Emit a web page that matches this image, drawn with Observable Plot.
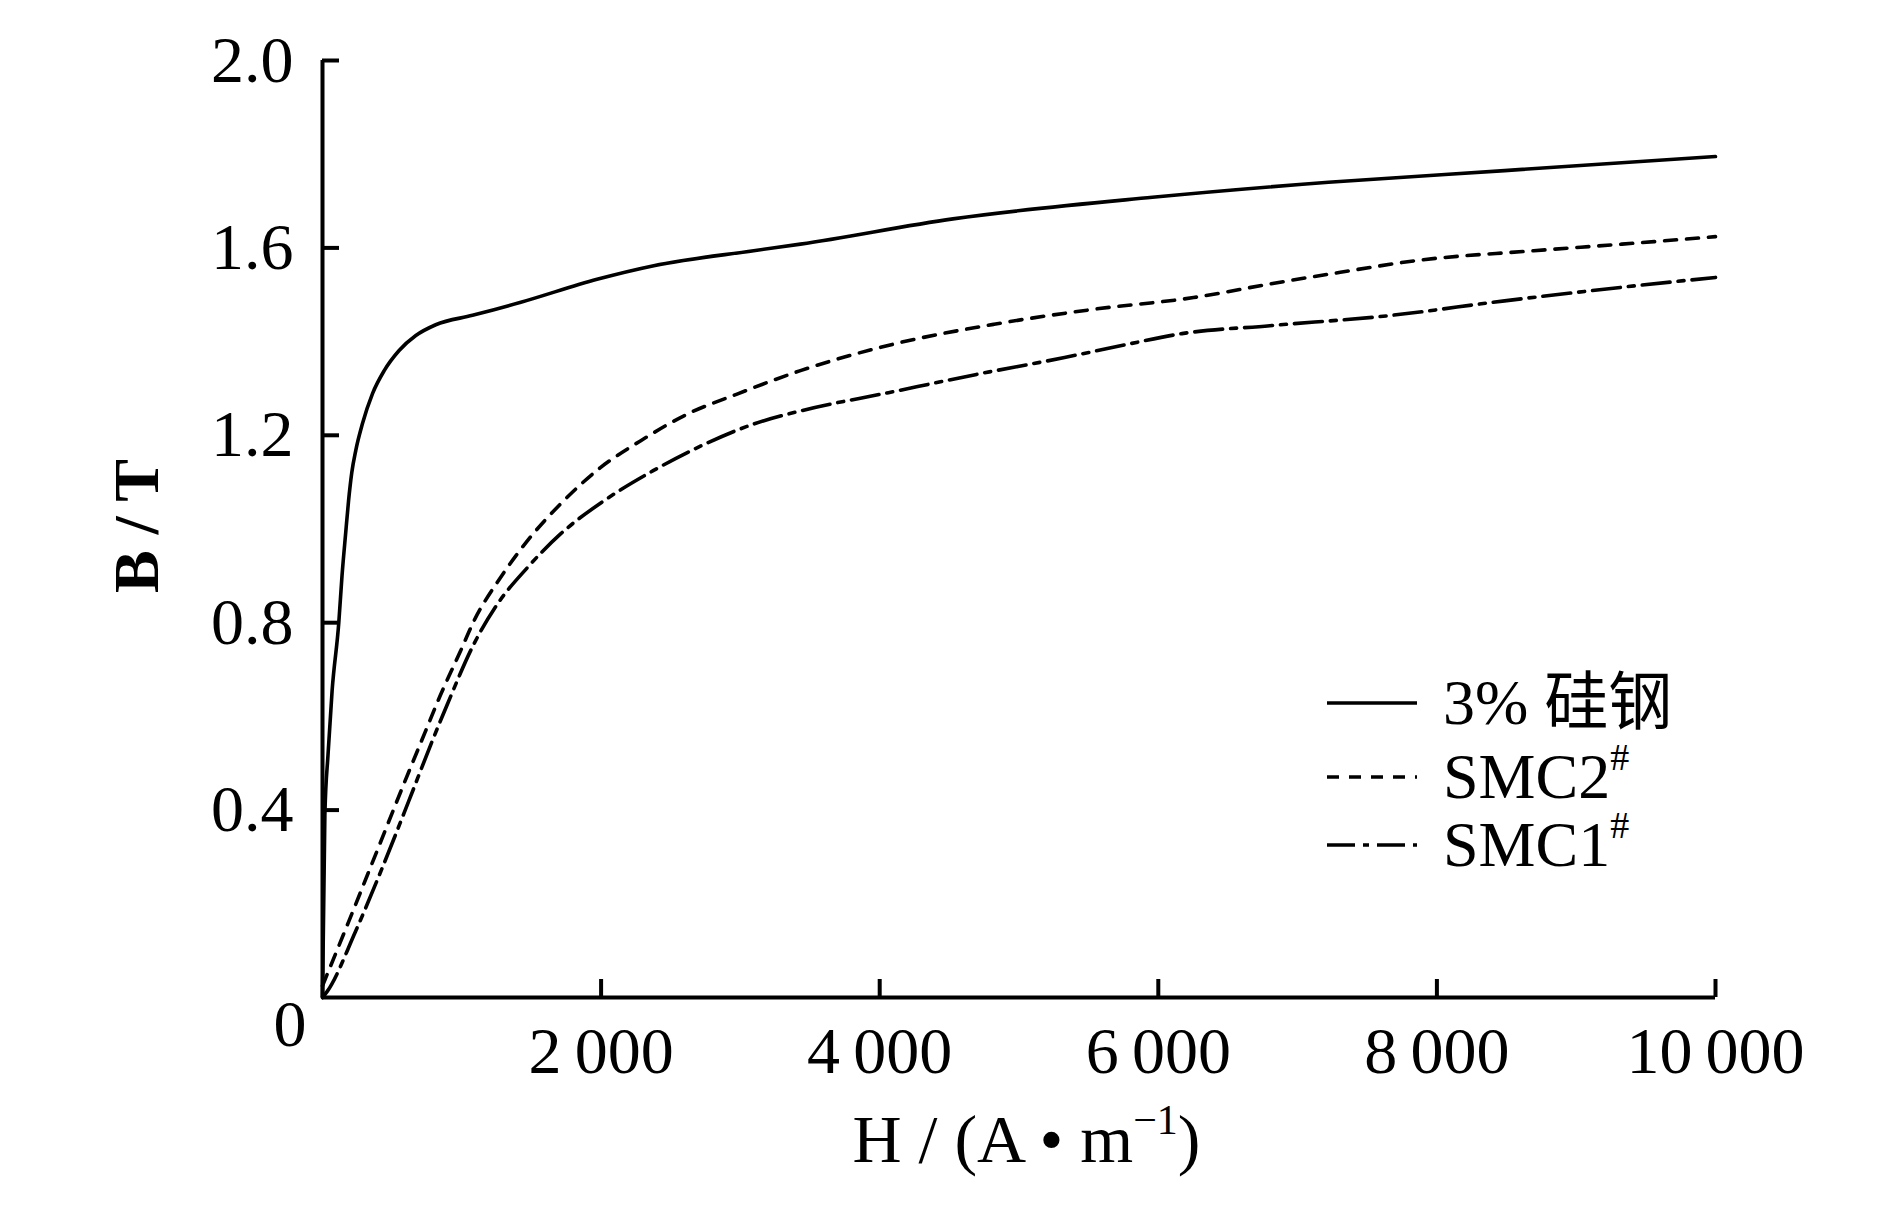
<!DOCTYPE html>
<html>
<head>
<meta charset="utf-8">
<script src="https://cdn.jsdelivr.net/npm/d3@7"></script>
<script src="https://cdn.jsdelivr.net/npm/@observablehq/plot@0.6"></script>
<style>
  html, body { margin: 0; padding: 0; background: #fff; }
  #chart { width: 1890px; height: 1205px; }
</style>
</head>
<body>
<div id="chart"></div>
<script>
// ---- axes / labels ----
const xTicks = [2000, 4000, 6000, 8000, 10000];
const xTickLabels = ["2\u2009000", "4\u2009000", "6\u2009000", "8\u2009000", "10\u2009000"];
const yTicks = [0.4, 0.8, 1.2, 1.6, 2.0];
const yTickLabels = ["0.4", "0.8", "1.2", "1.6", "2.0"];
const originLabel = "0";
const yLabel = "B / T";
const xLabelMain = "H / (A \u2022 m";
const xLabelSup = "\u22121";
const xLabelEnd = ")";

// ---- series ----
const seriesNames = ["3% 硅钢", "SMC2", "SMC1"];
const seriesSup = ["", "#", "#"];

const steelH = [0, 17, 40, 69, 117, 140, 166, 187, 210, 239, 287, 359, 443, 550, 670, 813, 1077, 1424, 1971, 2378, 3095, 3431, 4526, 5958, 7222, 8486, 10000];
const steelB = [0, 0.39, 0.52, 0.655, 0.80, 0.90, 0.99, 1.06, 1.12, 1.168, 1.225, 1.289, 1.338, 1.381, 1.413, 1.436, 1.456, 1.484, 1.533, 1.562, 1.594, 1.608, 1.662, 1.708, 1.740, 1.765, 1.795];

const smc2H = [0, 22, 188, 381, 572, 739, 846, 990, 1086, 1277, 1469, 1707, 1995, 2282, 2617, 2976, 3431, 4105, 4821, 5537, 6253, 6801, 7307, 7854, 8695, 9328, 10000];
const smc2B = [0.025, 0.041, 0.162, 0.305, 0.447, 0.568, 0.645, 0.739, 0.803, 0.896, 0.974, 1.053, 1.131, 1.188, 1.245, 1.288, 1.338, 1.395, 1.437, 1.469, 1.494, 1.523, 1.548, 1.573, 1.594, 1.608, 1.624];

const smc1H = [0, 34, 237, 428, 619, 787, 895, 1086, 1254, 1469, 1707, 2019, 2377, 2736, 3095, 3431, 4063, 4695, 5327, 5790, 6169, 6801, 7643, 8486, 9328, 10000];
const smc1B = [0, 0.013, 0.141, 0.276, 0.419, 0.547, 0.625, 0.754, 0.839, 0.917, 0.989, 1.06, 1.125, 1.180, 1.224, 1.252, 1.291, 1.330, 1.366, 1.395, 1.417, 1.434, 1.455, 1.487, 1.516, 1.537];

const dashes = [null, "12,10", "28,8,6,8"];

const toRows = (H, B) => H.map((h, i) => ({H: h, B: B[i]}));
const seriesRows = [toRows(steelH, steelB), toRows(smc2H, smc2B), toRows(smc1H, smc1B)];

const serif = "'Liberation Serif', 'Times New Roman', Times, serif";
const serifCJK = "'Liberation Serif', 'Times New Roman', 'Noto Sans CJK SC', serif";

const chart = Plot.plot({
  width: 1890,
  height: 1205,
  marginLeft: 322,
  marginRight: 175,
  marginTop: 60,
  marginBottom: 208,
  x: {domain: [0, 10000], axis: null},
  y: {domain: [0, 2], axis: null},
  style: {fontFamily: serif, fontSize: "66px", color: "#000", background: "#fff", overflow: "visible"},
  marks: [
    Plot.ruleX([0], {stroke: "#000", strokeWidth: 4}),
    Plot.ruleY([0], {stroke: "#000", strokeWidth: 4}),
    Plot.ruleY(yTicks, {x1: 0, x2: 0, insetRight: -17, stroke: "#000", strokeWidth: 4}),
    Plot.ruleX(xTicks, {y1: 0, y2: 0, insetTop: -18, stroke: "#000", strokeWidth: 4}),
    Plot.text(yTicks, {x: 0, y: d => d, text: (d, i) => yTickLabels[i], textAnchor: "end", lineAnchor: "middle", dx: -29}),
    Plot.text(xTicks, {x: d => d, y: 0, text: (d, i) => xTickLabels[i], lineAnchor: "top", dy: 29}),
    Plot.text([originLabel], {x: 0, y: 0, text: d => d, textAnchor: "end", lineAnchor: "top", dx: -16, dy: 2}),
    ...seriesRows.map((rows, k) => Plot.line(rows, {
      x: "H", y: "B", curve: "monotone-x", stroke: "#000", strokeWidth: 3.6,
      strokeDasharray: dashes[k] || undefined
    })),
    Plot.text([yLabel], {frameAnchor: "left", text: d => d, rotate: -90, dx: -185, dy: -3, textAnchor: "middle", lineAnchor: "middle", fontWeight: "bold", fontSize: 64})
  ]
});

document.getElementById("chart").appendChild(chart);

const svg = d3.select(chart);
const xs = chart.scale("x");

// x-axis title with superscript
const xt = svg.append("text")
  .attr("x", xs.apply(5000) + 8)
  .attr("y", 1162)
  .attr("text-anchor", "middle")
  .attr("font-family", serif)
  .attr("font-size", 68)
  .attr("fill", "#000");
xt.append("tspan").text(xLabelMain);
xt.append("tspan").attr("font-size", 42).attr("dy", -28).text(xLabelSup);
xt.append("tspan").attr("font-size", 68).attr("dy", 28).text(xLabelEnd);

// legend inside plot
const legendLineY = [703, 777, 845];
const lg = svg.append("g")
  .attr("font-family", serifCJK)
  .attr("font-size", 64)
  .attr("fill", "#000")
  .attr("text-anchor", "start");
seriesNames.forEach((name, k) => {
  const y = legendLineY[k];
  lg.append("line")
    .attr("x1", 1327).attr("x2", 1417).attr("y1", y).attr("y2", y)
    .attr("stroke", "#000").attr("stroke-width", 3.6)
    .attr("stroke-dasharray", dashes[k] || null);
  const t = lg.append("text").attr("x", 1443).attr("y", y + 21).attr("text-anchor", "start");
  t.append("tspan").text(name);
  if (seriesSup[k]) t.append("tspan").attr("font-size", 38).attr("dy", -28).text(seriesSup[k]);
});
</script>
</body>
</html>
